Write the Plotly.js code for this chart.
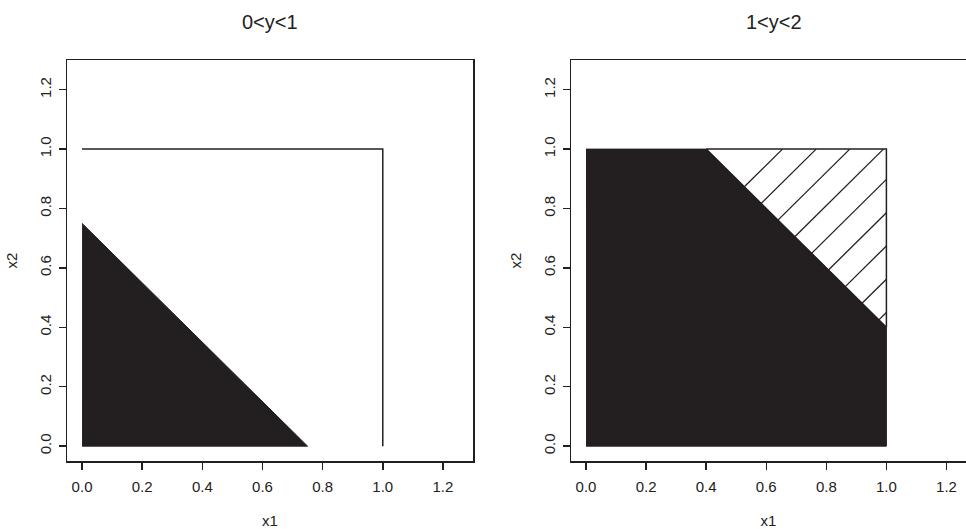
<!DOCTYPE html>
<html>
<head>
<meta charset="utf-8">
<script src="https://cdn.plot.ly/plotly-3.0.1.min.js"></script>
<style>html,body{margin:0;padding:0;background:#fff;}#chart{width:966px;height:529px;}</style>
</head>
<body>
<div id="chart"></div>
<script>
// ---- data ----
const panelTitles = ["0<y<1", "1<y<2"];
const tickVals = [0, 0.2, 0.4, 0.6, 0.8, 1.0, 1.2];
const tickText = ["0.0", "0.2", "0.4", "0.6", "0.8", "1.0", "1.2"];

// left panel: unit-square outline (top and right sides) and filled triangle
const cornerX = [0, 1, 1];
const cornerY = [1, 1, 0];
const triX = [0, 0.75, 0];
const triY = [0, 0, 0.75];

// right panel: filled region x1 + x2 <= 1.4 inside the unit square
const fillX = [0, 1, 1, 0.4, 0];
const fillY = [0, 0, 0.4, 1, 1];
// hatched triangle
const hatchX = [0.4, 1, 1, 0.4];
const hatchY = [1, 1, 0.4, 1];
const hatchCut = 1.4;              // boundary x1 + x2 = 1.4
const hatchOffsets = [-0.55, -0.438, -0.326, -0.214, -0.102, 0.01, 0.122, 0.234, 0.346];

const ink = "#231f20";
const font = "Liberation Sans, Arial, Helvetica, sans-serif";

// hatch segments: lines x2 = x1 + c clipped to the triangle
const hx = [], hy = [];
hatchOffsets.forEach(c => {
  const x0 = (hatchCut - c) / 2, y0 = (hatchCut + c) / 2;
  let x1, y1;
  if (c >= 0) { y1 = 1; x1 = 1 - c; } else { x1 = 1; y1 = 1 + c; }
  hx.push(x0, x1, null); hy.push(y0, y1, null);
});

const traces = [
  {x: triX, y: triY, type: "scatter", mode: "lines", fill: "toself", fillcolor: ink,
   line: {color: ink, width: 1}, xaxis: "x", yaxis: "y", hoverinfo: "skip"},
  {x: cornerX, y: cornerY, type: "scatter", mode: "lines",
   line: {color: ink, width: 1.5}, xaxis: "x", yaxis: "y", hoverinfo: "skip"},
  {x: fillX, y: fillY, type: "scatter", mode: "lines", fill: "toself", fillcolor: ink,
   line: {color: ink, width: 1}, xaxis: "x2", yaxis: "y2", hoverinfo: "skip"},
  {x: hx, y: hy, type: "scatter", mode: "lines", connectgaps: false,
   line: {color: ink, width: 1.3}, xaxis: "x2", yaxis: "y2", hoverinfo: "skip"},
  {x: hatchX, y: hatchY, type: "scatter", mode: "lines",
   line: {color: ink, width: 1.5}, xaxis: "x2", yaxis: "y2", hoverinfo: "skip"}
];

const tfont = {family: font, size: 15, color: "#222"};

function xax(domain, range, title, anchor) {
  return {
    domain: domain, range: range, anchor: anchor, fixedrange: true,
    showgrid: false, zeroline: false,
    showline: true, linecolor: ink, linewidth: 1.5, mirror: true,
    ticks: "outside", ticklen: 7, tickwidth: 1.5, tickcolor: ink,
    tickvals: tickVals, ticktext: tickText, ticklabelstandoff: 4,
    tickfont: tfont,
    title: {text: title, font: tfont, standoff: 27}
  };
}
function yax(anchor, title, mirror) {
  return {
    domain: [0, 1], range: [-0.05, 1.3], anchor: anchor, fixedrange: true,
    showgrid: false, zeroline: false,
    showline: true, linecolor: ink, linewidth: 1.5, mirror: mirror,
    ticks: "outside", ticklen: 7, tickwidth: 1.5, tickcolor: ink,
    tickvals: tickVals, ticktext: tickText, tickangle: -90, ticklabelstandoff: 2,
    tickfont: tfont,
    title: {text: title, font: tfont, standoff: 15}
  };
}

const layout = {
  width: 966, height: 529,
  margin: {l: 67, r: 0, t: 60, b: 68, pad: 0},
  paper_bgcolor: "#fff", plot_bgcolor: "#fff",
  showlegend: false,
  xaxis: xax([0, 406 / 899], [-0.05, 1.3], "x1", "y"),
  yaxis: yax("x", "x2", true),
  xaxis2: xax([504 / 899, 1], [-0.05, 1.265], "x1", "y2"),
  yaxis2: yax("x2", "x2", false),
  annotations: [
    {text: panelTitles[0], xref: "paper", yref: "paper", x: 203 / 899, y: 1, yshift: 38,
     xanchor: "center", yanchor: "middle", showarrow: false,
     font: {family: font, size: 20, color: "#222"}},
    {text: panelTitles[1], xref: "paper", yref: "paper", x: (504 + 203) / 899, y: 1, yshift: 38,
     xanchor: "center", yanchor: "middle", showarrow: false,
     font: {family: font, size: 20, color: "#222"}}
  ]
};

Plotly.newPlot("chart", traces, layout, {displayModeBar: false, staticPlot: true});
</script>
</body>
</html>
